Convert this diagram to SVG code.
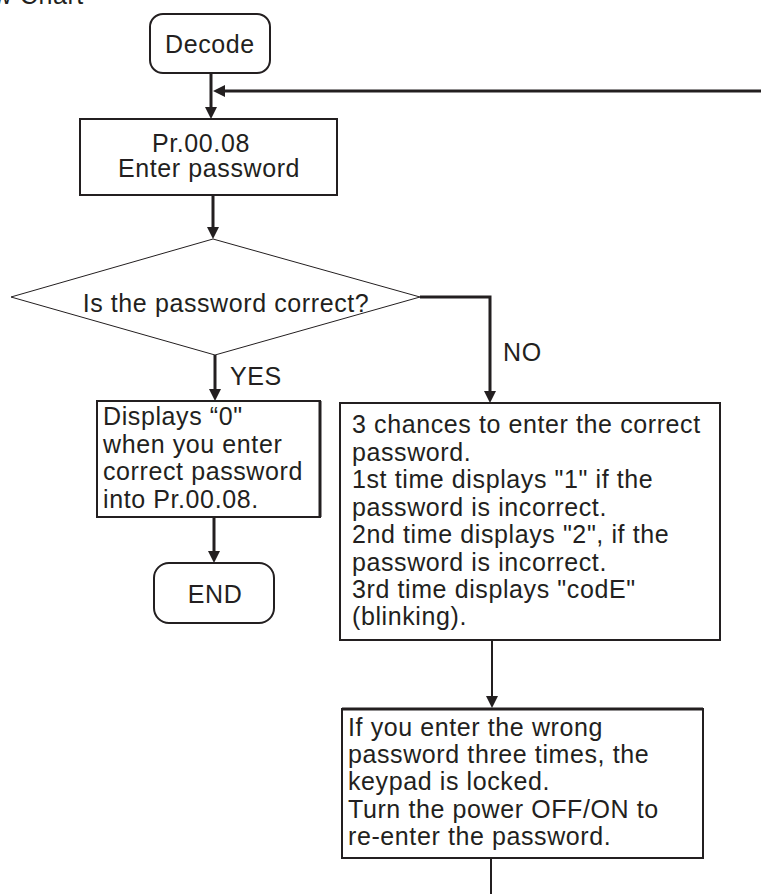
<svg xmlns="http://www.w3.org/2000/svg" width="761" height="894" viewBox="0 0 761 894">
<style>
  text { font-family: "Liberation Sans", Arial, sans-serif; font-size: 25px; letter-spacing: 0.6px; fill: #231f20; }
  .box { fill: #ffffff; stroke: #231f20; stroke-width: 2; }
  .dia { fill: #ffffff; stroke: #231f20; stroke-width: 1; }
  .c { text-anchor: middle; }
  .ln { fill: none; stroke: #231f20; stroke-width: 3; }
  .thin { fill: none; stroke: #231f20; stroke-width: 2; }
  .arr { marker-end: url(#ah); }
</style>
<defs>
  <marker id="ah" viewBox="0 0 12 12" refX="8" refY="6" markerWidth="12" markerHeight="12" markerUnits="userSpaceOnUse" orient="auto">
    <path d="M0,0 L12,6 L0,12 z" fill="#231f20"/>
  </marker>
</defs>
<rect width="761" height="894" fill="#ffffff"/>
<text x="-43" y="4">Flow Chart</text>

<g id="connectors">
  <line class="ln arr" x1="211" y1="73" x2="211" y2="115"/>
  <line class="ln arr" x1="761" y1="91" x2="217" y2="91"/>
  <line class="ln arr" x1="213" y1="195" x2="213" y2="235"/>
  <line class="ln arr" x1="215" y1="355" x2="215" y2="397"/>
  <polyline class="ln arr" points="420,297 490,297 490,399"/>
  <line class="ln arr" x1="214" y1="518" x2="214" y2="559"/>
  <line class="thin arr" x1="492" y1="640" x2="492" y2="704"/>
  <line class="thin" x1="491" y1="858" x2="491" y2="894"/>
  <text x="230" y="385">YES</text>
  <text x="503" y="361">NO</text>
</g>

<g id="decode">
  <rect class="box" x="150" y="14" width="120" height="59" rx="13"/>
  <text class="c" x="210" y="53">Decode</text>
</g>

<g id="enter">
  <rect class="box" x="80" y="119" width="257" height="76"/>
  <text x="152" y="152">Pr.00.08</text>
  <text x="118" y="177">Enter password</text>
</g>

<g id="decision">
  <polygon class="dia" points="213,239 420,297 215,355 11,297"/>
  <text class="c" x="226" y="312">Is the password correct?</text>
</g>

<g id="display0">
  <rect class="box" x="97" y="401" width="223" height="116"/>
  <line x1="320" y1="401" x2="320" y2="517" stroke="#231f20" stroke-width="3"/>
  <text x="103" y="425">Displays “0"</text>
  <text x="103" y="453">when you enter</text>
  <text x="103" y="480">correct password</text>
  <text x="103" y="508">into Pr.00.08.</text>
</g>

<g id="end">
  <rect class="box" x="154" y="563" width="120" height="60" rx="15"/>
  <text class="c" x="215" y="603">END</text>
</g>

<g id="chances">
  <rect class="box" x="340" y="403" width="380" height="237"/>
  <text x="352" y="433">3 chances to enter the correct</text>
  <text x="352" y="461">password.</text>
  <text x="352" y="488">1st time displays "1" if the</text>
  <text x="352" y="516">password is incorrect.</text>
  <text x="352" y="543">2nd time displays "2", if the</text>
  <text x="352" y="571">password is incorrect.</text>
  <text x="352" y="598">3rd time displays "codE"</text>
  <text x="352" y="625">(blinking).</text>
</g>

<g id="locked">
  <rect class="box" x="342" y="709" width="361" height="149"/>
  <line x1="342" y1="709" x2="703" y2="709" stroke="#231f20" stroke-width="3"/>
  <text x="348" y="736">If you enter the wrong</text>
  <text x="348" y="763">password three times, the</text>
  <text x="348" y="790">keypad is locked.</text>
  <text x="348" y="818">Turn the power OFF/ON to</text>
  <text x="348" y="845">re-enter the password.</text>
</g>
</svg>
